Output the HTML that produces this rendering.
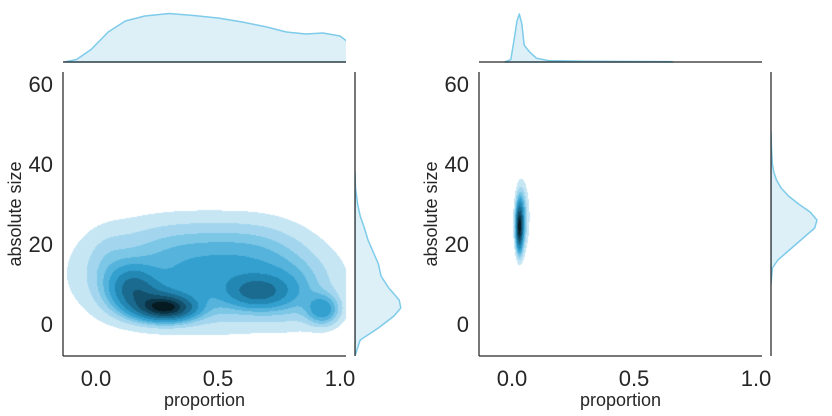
<!DOCTYPE html>
<html><head><meta charset="utf-8">
<style>
html,body{margin:0;padding:0;background:#fff;}
#wrap{position:relative;width:832px;height:416px;overflow:hidden;}
canvas{position:absolute;left:0;top:0;}
svg{position:absolute;left:0;top:0;display:block;font-family:"Liberation Sans",sans-serif;}
</style></head>
<body>
<div id="wrap">
<canvas id="kde" width="832" height="416"></canvas>
<svg id="chart" width="832" height="416" viewBox="0 0 832 416"></svg>
</div>
<script>
// ---- data ----
const xTicks=[0.0,0.5,1.0];
const xTickLabels=["0.0","0.5","1.0"];
const yTicks=[0,20,40,60];
const yTickLabels=["0","20","40","60"];
const levelColors=["#c6e6f4","#a3d6ee","#7cc6e6","#55b3dc","#33a0cf","#2387b3","#1a6b8f","#13506b","#0c3447","#061a22"];
const levelFrac=[0.035,0.08,0.13,0.18,0.24,0.33,0.45,0.6,0.75,0.88];
// density components: [cx, cy, sx, sy, weight]
const leftComps=[
 [0.29,4,0.075,2.0,1.0],
 [0.15,9,0.06,3.5,0.45],
 [0.22,6,0.08,3,0.3],
 [0.66,8,0.08,2.6,0.45],
 [0.93,3.5,0.045,2.5,0.35],
 [0.45,11,0.28,7,0.33],
 [0.8,8,0.1,5,0.15],
 [0.38,20,0.25,5.5,0.1],
 [0.68,17,0.13,6,0.08],
 [0.05,13,0.06,6,0.08]
];
const rightComps=[
 [0.03,24,0.009,3.5,1.0],
 [0.036,26,0.013,4.5,0.35],
 [0.045,27,0.02,5.5,0.1]
];
const leftTopX=[-0.13,-0.08,-0.02,0.05,0.12,0.2,0.3,0.4,0.5,0.6,0.7,0.78,0.86,0.93,1.0,1.06,1.1,1.15];
const leftTopD=[0.0,0.05,0.25,0.6,0.82,0.92,0.97,0.93,0.88,0.8,0.7,0.6,0.56,0.58,0.52,0.3,0.12,0.02];
const leftRightY=[-8,-4,-1,2,4,6,9,12,15,18,21,24,27,30,34,38];
const leftRightD=[0.0,0.1,0.45,0.75,0.88,0.85,0.65,0.5,0.45,0.35,0.25,0.18,0.1,0.05,0.01,0.0];
const rightTopX=[-0.03,-0.005,0.01,0.02,0.03,0.04,0.05,0.07,0.1,0.15,0.3,0.5,0.65,0.66];
const rightTopD=[0.0,0.05,0.5,0.85,1.0,0.8,0.35,0.22,0.08,0.03,0.015,0.01,0.008,0.0];
const rightRightY=[10,14,16,18,20,22,24,26,28,30,32,34,36,38,40,44,48];
const rightRightD=[0.0,0.03,0.15,0.35,0.55,0.75,0.95,1.0,0.85,0.6,0.38,0.22,0.12,0.06,0.03,0.01,0.0];

// ---- helpers ----
const svg=document.getElementById('chart');
const ctx=document.getElementById('kde').getContext('2d');
const NS='http://www.w3.org/2000/svg';
function mk(tag,attrs,parent){const e=document.createElementNS(NS,tag);for(const k in attrs)e.setAttribute(k,attrs[k]);(parent||svg).appendChild(e);return e;}
function dens(comps,x,y){let s=0;for(const c of comps){const dx=(x-c[0])/c[2],dy=(y-c[1])/c[3];s+=c[4]*Math.exp(-0.5*(dx*dx+dy*dy));}return s;}

function panel(prefix,x0px,comps,topX,topD,rY,rD,topScale,rightScale){
  const left=x0px, right=x0px+283, top=72, bottom=356;
  const sx=v=>left+33+v*244;
  const sy=v=>324-v*4;
  const ix=p=>(p-left-33)/244;
  const iy=p=>(324-p)/4;
  let mx=0;
  for(let py=top;py<bottom;py++)for(let px=left;px<right;px++){const d=dens(comps,ix(px+0.5),iy(py+0.5));if(d>mx)mx=d;}
  for(let py=top;py<bottom;py++)for(let px=left;px<right;px++){
    const f=dens(comps,ix(px+0.5),iy(py+0.5))/mx;
    let lv=-1;for(let k=0;k<levelFrac.length;k++)if(f>=levelFrac[k])lv=k;
    if(lv>=0){ctx.fillStyle=levelColors[lv];ctx.fillRect(px,py,1,1);}
  }
  const g=mk('g',{});
  
  
  const sp1=mk('line',{x1:left,y1:top,x2:left,y2:bottom,stroke:'#262626','stroke-width':1.25},g);
  
  
  const sp2=mk('line',{x1:left,y1:bottom,x2:right,y2:bottom,stroke:'#262626','stroke-width':1.25},g);
  
  
  xTicks.forEach((t,i)=>{
    const tx=mk('text',{x:sx(t),y:386,'text-anchor':'middle','font-size':22,fill:'#262626'},g);
    tx.textContent=xTickLabels[i];
    
    
  });
  yTicks.forEach((t,i)=>{
    const ty=mk('text',{x:left-10,y:sy(t)+8,'text-anchor':'end','font-size':22,fill:'#262626'},g);
    ty.textContent=yTickLabels[i];
    
    
  });
  const xl=mk('text',{x:(left+right)/2,y:406,'text-anchor':'middle','font-size':18,fill:'#262626'},g);
  xl.textContent='proportion';
  
  
  const yl=mk('text',{x:0,y:0,'text-anchor':'middle','font-size':18,fill:'#262626',transform:'translate('+(left-42)+',214) rotate(-90)'},g);
  yl.textContent='absolute size';
  
  
  const base=62;
  const tcid=prefix+'tclip';
  const tcp=mk('clipPath',{id:tcid},g);
  mk('rect',{x:left,y:0,width:283,height:base+1},tcp);
  let d='M'+sx(topX[0])+','+base;
  topX.forEach((v,i)=>{d+=' L'+sx(v).toFixed(1)+','+(base-topD[i]*topScale).toFixed(1);});
  d+=' L'+sx(topX[topX.length-1])+','+base+' Z';
  const tm=mk('path',{d:d,fill:'#ddf0f8',stroke:'#7ecbea','stroke-width':1.5,'stroke-linejoin':'round','clip-path':'url(#'+tcid+')'},g);
  
  
  const tb=mk('line',{x1:left,y1:base,x2:right,y2:base,stroke:'#262626','stroke-width':1.25},g);
  
  
  const bx=right+9;
  let d2='M'+bx+','+sy(rY[0]);
  rY.forEach((v,i)=>{d2+=' L'+(bx+rD[i]*rightScale).toFixed(1)+','+sy(v).toFixed(1);});
  d2+=' L'+bx+','+sy(rY[rY.length-1])+' Z';
  const rcid=prefix+'rclip';
  const rcp=mk('clipPath',{id:rcid},g);
  mk('rect',{x:bx,y:top,width:60,height:284},rcp);
  const rm=mk('path',{d:d2,fill:'#ddf0f8',stroke:'#7ecbea','stroke-width':1.5,'clip-path':'url(#'+rcid+')','stroke-linejoin':'round'},g);
  
  
  const rb=mk('line',{x1:bx,y1:top,x2:bx,y2:bottom,stroke:'#262626','stroke-width':1.25},g);
  
  
}
panel('left',63,leftComps,leftTopX,leftTopD,leftRightY,leftRightD,50,52);
panel('right',479,rightComps,rightTopX,rightTopD,rightRightY,rightRightD,48,46);
</script>
</body></html>
